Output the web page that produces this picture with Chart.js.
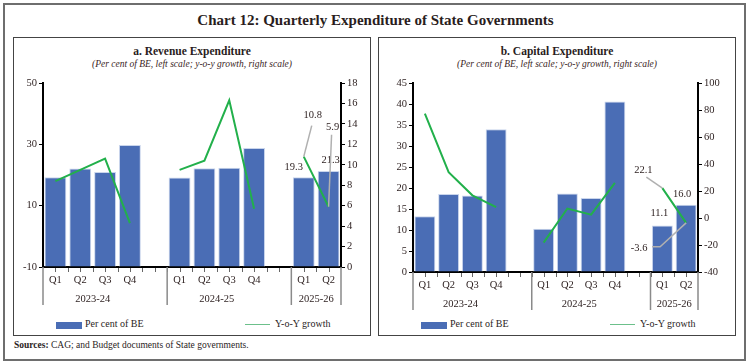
<!DOCTYPE html>
<html>
<head>
<meta charset="utf-8">
<script src="https://cdn.jsdelivr.net/npm/chart.js@4.4.1/dist/chart.umd.min.js"></script>
<style>
  body { margin: 0; width: 751px; height: 363px; position: relative; overflow: hidden;
         background: #fff; font-family: "Liberation Serif", serif; color: #2a1d1d; }
  .abs { position: absolute; }
  #outer { left: 3px; top: 3px; width: 743px; height: 358px; border: 2px solid #6e6e6e; box-sizing: border-box; }
  #title { left: 0; width: 751px; top: 12px; text-align: center; font-weight: bold; font-size: 15px; }
  .panel { top: 37px; width: 358px; height: 299px; border: 1.5px solid #444; box-sizing: border-box; }
  .ptitle { width: 358px; text-align: center; font-weight: bold; font-size: 11.5px; top: 45px; }
  .psub { width: 358px; text-align: center; font-style: italic; font-size: 9.5px; top: 59px; color: #3a2424; }
  .leg { font-size: 10px; top: 318px; }
  .box { width: 26px; height: 7px; background: #4a6db5; top: 322px; }
  .ln { width: 25px; height: 0; border-top: 1.5px solid #6cc08b; top: 324px; }
  #src { left: 14px; top: 340px; font-size: 9.5px; }
  canvas { position: absolute; }
</style>
</head>
<body>
<div id="outer" class="abs"></div>
<div id="title" class="abs">Chart 12: Quarterly Expenditure of State Governments</div>

<div class="abs panel" style="left:13px"></div>
<div class="abs panel" style="left:378px"></div>

<div class="abs ptitle" style="left:13px">a. Revenue Expenditure</div>
<div class="abs psub" style="left:13px">(Per cent of BE, left scale; y-o-y growth, right scale)</div>
<div class="abs ptitle" style="left:378px">b. Capital Expenditure</div>
<div class="abs psub" style="left:378px">(Per cent of BE, left scale; y-o-y growth, right scale)</div>

<canvas id="revChart" width="355" height="238" style="left:14px;top:72px"></canvas>
<canvas id="capChart" width="356" height="243" style="left:379px;top:72px"></canvas>

<div class="abs box" style="left:56px"></div>
<div class="abs leg" style="left:85px">Per cent of BE</div>
<div class="abs ln" style="left:245px"></div>
<div class="abs leg" style="left:275px">Y-o-Y growth</div>
<div class="abs box" style="left:421px"></div>
<div class="abs leg" style="left:450px">Per cent of BE</div>
<div class="abs ln" style="left:610px"></div>
<div class="abs leg" style="left:640px">Y-o-Y growth</div>

<div id="src" class="abs"><b>Sources:</b> CAG; and Budget documents of State governments.</div>

<script>
// -------------------------------------------------------------
// Datos
// -------------------------------------------------------------
const QUARTERS = ["Q1", "Q2", "Q3", "Q4", "", "Q1", "Q2", "Q3", "Q4", "", "Q1", "Q2"];
const YEARS = ["2023-24", "2024-25", "2025-26"];
const YEAR_SLOTS = [5, 5, 2];

const REV_SHARE = [19.3, 22.1, 21.0, 29.8, null, 19.2, 22.2, 22.4, 28.8, null, 19.3, 21.3];
const REV_GROWTH = [8.4, 9.5, 10.6, 4.3, null, 9.5, 10.4, 16.3, 5.7, null, 10.8, 5.9];
const CAP_SHARE = [13.3, 18.6, 18.2, 34.0, null, 10.3, 18.7, 17.6, 40.6, null, 11.1, 16.0];
const CAP_GROWTH = [77.3, 34.0, 16.8, 8.1, null, -18.2, 7.0, 2.5, 26.0, null, 22.1, -3.6];

// ejes: [min, max, paso]
const REV_LEFT_AXIS = [-10, 50, 20];
const REV_RIGHT_AXIS = [0, 18, 2];
const CAP_LEFT_AXIS = [0, 45, 5];
const CAP_RIGHT_AXIS = [-40, 100, 20];

const BLUE = "#4a6db5";
const GREEN = "#22b04b";
const TEXT = "#2a1d1d";
const FONT = { family: "Liberation Serif", size: 10.5 };

// -------------------------------------------------------------
// Plugin: años debajo del eje, marcas menores y etiquetas con guía
// -------------------------------------------------------------
const groupsPlugin = {
  id: "groups",
  afterDraw(chart) {
    const ctx = chart.ctx;
    const x = chart.scales.x;
    const w = x.getPixelForValue(1) - x.getPixelForValue(0);
    const left = x.getPixelForValue(0) - w / 2;
    const base = chart.chartArea.bottom;
    ctx.save();
    // marcas menores
    ctx.strokeStyle = "#666";
    ctx.lineWidth = 1;
    for (let i = 1; i < QUARTERS.length * 2; i++) {
      const px = Math.round(left + (i * w) / 2) + 0.5;
      ctx.beginPath();
      ctx.moveTo(px, base + 1);
      ctx.lineTo(px, base + 5);
      ctx.stroke();
    }
    // separadores y años
    ctx.strokeStyle = "#8a8a8a";
    ctx.lineWidth = 1.5;
    ctx.fillStyle = TEXT;
    ctx.font = "10.5px 'Liberation Serif'";
    ctx.textAlign = "center";
    ctx.textBaseline = "middle";
    let start = 0;
    const sep = (slot) => {
      const px = left + slot * w;
      ctx.beginPath();
      ctx.moveTo(px, base);
      ctx.lineTo(px, base + 38);
      ctx.stroke();
    };
    sep(0);
    YEARS.forEach((yr, k) => {
      const end = start + YEAR_SLOTS[k];
      const span = k < YEARS.length - 1 ? YEAR_SLOTS[k] - 1 : YEAR_SLOTS[k];
      ctx.fillText(yr, left + (start + span / 2) * w, base + 32);
      sep(end);
      start = end;
    });
    ctx.restore();
  },
  afterDatasetsDraw(chart) {
    const notes = chart.options.plugins.groups.notes || [];
    const ctx = chart.ctx;
    ctx.save();
    notes.forEach((n) => {
      const pt = chart.getDatasetMeta(n.ds).data[n.i];
      const val = chart.data.datasets[n.ds].data[n.i];
      if (n.leader) {
        ctx.strokeStyle = "#b0b0b0";
        ctx.lineWidth = 1.5;
        ctx.beginPath();
        ctx.moveTo(pt.x, pt.y);
        n.leader.forEach(([dx, dy]) => ctx.lineTo(pt.x + dx, pt.y + dy));
        ctx.stroke();
      }
      ctx.fillStyle = TEXT;
      ctx.font = "10.5px 'Liberation Serif'";
      ctx.textAlign = "center";
      ctx.textBaseline = "middle";
      ctx.fillText(val.toFixed(1), pt.x + n.dx, pt.y + n.dy);
    });
    ctx.restore();
  },
};

function buildChart(id, share, growth, leftAxis, rightAxis, sizes, notes) {
  const yScale = (axis, pos, width) => ({
    position: pos,
    min: axis[0],
    max: axis[1],
    ticks: { stepSize: axis[2], font: FONT, color: TEXT, padding: 2 },
    grid: { drawOnChartArea: false, tickLength: 4, color: "#000" },
    border: { color: "#000", width: 2 },
    afterFit(s) { s.width = width; },
  });

  return new Chart(document.getElementById(id), {
    type: "bar",
    data: {
      labels: QUARTERS,
      datasets: [
        {
          type: "line",
          label: "Y-o-Y growth",
          data: growth,
          yAxisID: "y1",
          borderColor: GREEN,
          borderWidth: 2,
          pointRadius: 0,
          tension: 0,
          spanGaps: false,
          order: 1,
        },
        {
          label: "Per cent of BE",
          data: share,
          yAxisID: "y",
          base: leftAxis[0],
          backgroundColor: BLUE,
          borderColor: "#c9d5ec",
          borderWidth: 1,
          barPercentage: 0.88,
          categoryPercentage: 1,
          order: 2,
        },
      ],
    },
    options: {
      responsive: false,
      animation: false,
      layout: { padding: { top: 11, left: 0, right: 0, bottom: 0 } },
      plugins: {
        legend: { display: false },
        tooltip: { enabled: false },
        groups: { notes },
      },
      scales: {
        x: {
          offset: true,
          grid: { display: false, drawTicks: false },
          border: { color: "#000", width: 2 },
          ticks: { font: FONT, color: TEXT, padding: 7, autoSkip: false, maxRotation: 0 },
          afterFit(s) { s.height = sizes.bottom; },
        },
        y: yScale(leftAxis, "left", sizes.left),
        y1: yScale(rightAxis, "right", sizes.right),
      },
    },
    plugins: [groupsPlugin],
  });
}

buildChart("revChart", REV_SHARE, REV_GROWTH, REV_LEFT_AXIS, REV_RIGHT_AXIS,
  { left: 29, right: 28, bottom: 43 },
  [
    { ds: 1, i: 10, dx: -10, dy: -10 },
    { ds: 1, i: 11, dx: 2, dy: -11 },
    { ds: 0, i: 10, dx: 9, dy: -41, leader: [[8, -31]] },
    { ds: 0, i: 11, dx: 4, dy: -79, leader: [[3, -72]] },
  ]);

buildChart("capChart", CAP_SHARE, CAP_GROWTH, CAP_LEFT_AXIS, CAP_RIGHT_AXIS,
  { left: 34, right: 37, bottom: 43 },
  [
    { ds: 1, i: 10, dx: -3, dy: -12 },
    { ds: 1, i: 11, dx: -4, dy: -11 },
    { ds: 0, i: 10, dx: -19, dy: -18, leader: [[-16, -11]] },
    { ds: 0, i: 11, dx: -47, dy: 25, leader: [[-26, 24], [-34, 24]] },
  ]);
</script>
</body>
</html>
